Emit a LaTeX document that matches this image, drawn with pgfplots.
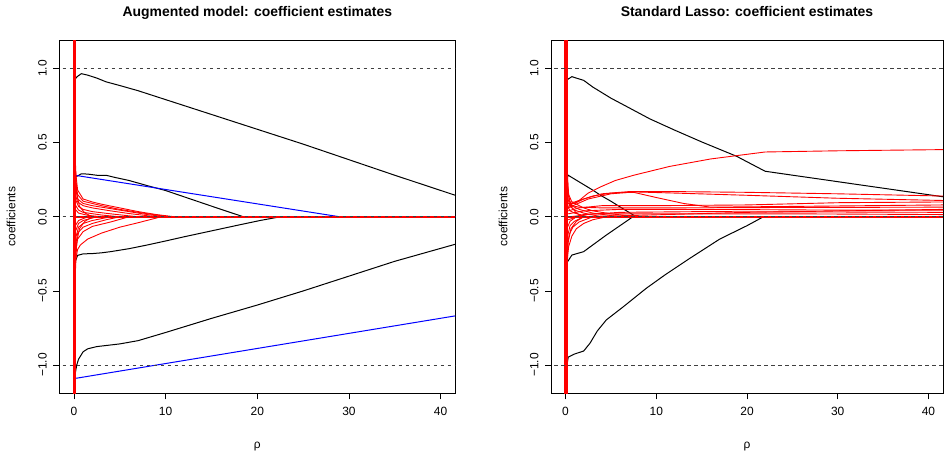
\documentclass[border=0pt]{standalone}
\usepackage{fontspec}
\setmainfont{Liberation Sans}
\usepackage{pgfplots}
\pgfplotsset{compat=1.18}

\pgfplotsset{
  coefax/.style={
    scale only axis, height=353bp, anchor=south west,
    xmin=-1.6, xmax=41.6, ymin=-1.19, ymax=1.19,
    axis line style={line width=0.8bp},
    tick align=outside, major tick length=6bp,
    tick style={black, line width=0.8bp},
    tick pos=left,
    xtick={0,10,20,30,40}, xticklabels={0,10,20,30,40},
    ytick={-1,-0.5,0,0.5,1}, yticklabels={−1.0,−0.5,0.0,0.5,1.0},
    ticklabel style={font=\fontsize{12}{14}\selectfont},
    yticklabel style={xshift=-3bp, rotate=90, anchor=south},
    xticklabel style={yshift=-4bp},
    xlabel={ρ}, ylabel={coefficients},
    label style={font=\fontsize{12}{14}\selectfont},
    xlabel style={at={(0.5,-0.157)}, anchor=base, inner sep=0pt},
    ylabel style={at={(-0.122,0.5)}, anchor=center},
    title style={at={(0.5,1.05)}, anchor=base, inner sep=0pt,
      font=\bfseries\fontsize{14}{16}\selectfont},
  },
  blk/.style={black, line width=1bp},
  bl/.style={blue, line width=1bp},
  rd/.style={red, line width=0.9bp},
  ref/.style={black!75, line width=0.8bp, dash pattern=on 3.5bp off 3.5bp},
}

\begin{document}
\begin{tikzpicture}
\path[use as bounding box] (0,0) rectangle (949bp,454bp);

% ---- left: augmented model
\begin{axis}[coefax, at={(59.3bp,60.7bp)}, width=396bp,
  title={Augmented model: coefficient estimates}]
  \addplot[blk] coordinates {(0.15,0.93) (0.35,0.945) (0.8,0.965) (1.5,0.955) (2.5,0.935) (3.5,0.91) (5,0.885) (7,0.85) (10,0.79) (15,0.69) (20,0.59) (25,0.49) (30,0.385) (35,0.28) (41.6,0.145)};
  \addplot[blk] coordinates {(0.15,0.27) (0.4,0.275) (0.8,0.29) (1.5,0.288) (2.5,0.28) (3.5,0.28) (4.5,0.265) (6,0.245) (8,0.21) (10,0.177) (12,0.135) (14,0.093) (16,0.051) (18.5,0) (41.6,0)};
  \addplot[blk] coordinates {(0.15,-0.3) (0.4,-0.26) (1,-0.25) (2,-0.248) (3,-0.243) (4,-0.235) (6,-0.215) (8,-0.19) (10,-0.163) (12,-0.135) (15,-0.095) (18,-0.055) (20.3,-0.025) (22.5,0) (41.6,0)};
  \addplot[blk] coordinates {(0.1,-1.07) (0.3,-1.0) (0.5,-0.96) (1,-0.91) (1.5,-0.89) (2.5,-0.875) (5,-0.857) (7,-0.835) (10,-0.78) (15,-0.685) (20,-0.595) (25,-0.5) (30,-0.4) (35,-0.3) (41.6,-0.185)};
  \addplot[bl] coordinates {(0.1,0.28) (29,0) (41.6,0)};
  \addplot[bl] coordinates {(0.1,-1.09) (41.6,-0.668)};
  % noise variables
  \addplot[rd] coordinates {(0.15,0.32) (0.4,0.18) (1,0.12) (2,0.1) (3,0.085) (5,0.06) (7,0.035) (9,0.015) (11,0)};
  \addplot[rd] coordinates {(0.15,0.25) (0.4,0.15) (1,0.105) (2,0.09) (3,0.075) (5,0.05) (7,0.03) (9,0.012) (10.5,0)};
  \addplot[rd] coordinates {(0.15,0.2) (0.4,0.12) (1,0.09) (2,0.075) (4,0.055) (6,0.035) (8,0.015) (10,0)};
  \addplot[rd] coordinates {(0.15,0.15) (0.4,0.1) (1,0.075) (2,0.06) (4,0.04) (6,0.022) (9,0)};
  \addplot[rd] coordinates {(0.15,0.12) (0.5,0.07) (1,0.05) (2,0.035) (4,0.02) (7,0)};
  \addplot[rd] coordinates {(0.15,0.08) (0.5,0.045) (1,0.03) (3,0.012) (5,0)};
  \addplot[rd] coordinates {(0.15,0.05) (0.5,0.025) (1.5,0.01) (3,0)};
  \addplot[rd] coordinates {(0.1,0.45) (0.3,0.16) (0.6,0.07) (1.2,0.025) (2,0)};
  \addplot[rd] coordinates {(0.15,-0.3) (0.4,-0.22) (0.7,-0.19) (1.5,-0.15) (3,-0.11) (5,-0.07) (7,-0.04) (9.5,0)};
  \addplot[rd] coordinates {(0.15,-0.25) (0.4,-0.15) (1,-0.1) (2,-0.065) (4,-0.035) (6,0)};
  \addplot[rd] coordinates {(0.15,-0.2) (0.4,-0.11) (1,-0.07) (2,-0.045) (3.5,-0.02) (5,0)};
  \addplot[rd] coordinates {(0.15,-0.15) (0.5,-0.07) (1,-0.045) (2,-0.025) (4,0)};
  \addplot[rd] coordinates {(0.15,-0.1) (0.5,-0.045) (1,-0.025) (2.5,0)};
  \addplot[rd] coordinates {(0.15,-0.06) (0.5,-0.025) (1.5,0)};
  \addplot[rd] coordinates {(0.1,-0.45) (0.3,-0.17) (0.6,-0.08) (1.2,-0.03) (2,0)};
  \addplot[red, line width=2bp] coordinates {(0,0) (41.6,0)};
  \addplot[red, line width=3.5bp] coordinates {(0.05,-1.5) (0.05,1.5)};
  % reference lines
  \addplot[ref] coordinates {(-2,1) (43,1)};
  \addplot[ref] coordinates {(-2,0) (43,0)};
  \addplot[ref] coordinates {(-2,-1) (43,-1)};
\end{axis}

% ---- right: standard lasso
\begin{axis}[coefax, at={(551bp,60.7bp)}, width=392bp,
  title={Standard Lasso: coefficient estimates}]
  \addplot[blk] coordinates {(0.2,0.925) (0.7,0.945) (1.2,0.935) (2,0.92) (3,0.875) (5,0.8) (7,0.735) (9.3,0.66) (12,0.585) (15,0.505) (18.85,0.408) (22,0.307) (41.6,0.135)};
  \addplot[blk] coordinates {(0.15,0.26) (0.3,0.28) (1,0.254) (2,0.217) (3,0.18) (4,0.14) (5,0.105) (6,0.067) (7.8,0) (41.6,0)};
  \addplot[blk] coordinates {(0.15,-0.31) (0.3,-0.296) (0.7,-0.258) (2,-0.235) (3,-0.19) (4.5,-0.123) (6.9,-0.022) (7.4,0) (41.6,0)};
  \addplot[blk] coordinates {(0.15,-1.0) (0.3,-0.946) (1,-0.925) (2,-0.905) (2.7,-0.852) (3.5,-0.77) (4.5,-0.695) (6.4,-0.605) (8.9,-0.482) (11,-0.39) (13.7,-0.28) (17,-0.15) (20,-0.06) (21.8,0) (41.6,0)};
  % noise variables, non-zero
  \addplot[rd] coordinates {(0.15,0.05) (0.5,0.08) (1.5,0.11) (2.5,0.16) (3.8,0.2) (5.5,0.245) (7.5,0.28) (11.5,0.34) (16,0.39) (22,0.437) (30,0.445) (41.6,0.453)};
  \addplot[rd] coordinates {(0.3,0.09) (1,0.09) (2,0.12) (4,0.155) (7,0.17) (12,0.17) (20,0.165) (30,0.155) (41.6,0.14)};
  \addplot[rd] coordinates {(0.3,0.06) (1,0.08) (2.5,0.12) (5,0.155) (7.5,0.168) (12,0.16) (20,0.145) (30,0.125) (41.6,0.11)};
  \addplot[rd] coordinates {(0.3,0.1) (1,0.1) (3,0.14) (5,0.16) (7.5,0.165) (10,0.13) (13,0.09) (16,0.065) (25,0.07) (41.6,0.08)};
  \addplot[rd] coordinates {(0.3,0.04) (1.5,0.06) (4,0.075) (10,0.075) (20,0.08) (30,0.095) (41.6,0.1)};
  \addplot[rd] coordinates {(0.3,0.08) (1.5,0.065) (4,0.06) (10,0.06) (20,0.062) (41.6,0.065)};
  \addplot[rd] coordinates {(0.3,0.02) (2,0.04) (6,0.05) (15,0.05) (30,0.045) (41.6,0.045)};
  \addplot[rd] coordinates {(0.3,-0.02) (2,0.015) (6,0.03) (15,0.035) (41.6,0.03)};
  \addplot[rd] coordinates {(0.5,0) (3,0.02) (10,0.02) (25,0.02) (41.6,0.015)};
  \addplot[rd] coordinates {(1,0) (8,0.01) (20,0.03) (41.6,0.05)};
  % noise variables, shrunk to zero
  \addplot[rd] coordinates {(0.15,0.3) (0.35,0.15) (0.7,0.1) (1.2,0.085) (2,0.06) (3,0.04) (5,0.02) (8,0)};
  \addplot[rd] coordinates {(0.15,0.22) (0.4,0.11) (0.8,0.07) (1.5,0.05) (3,0.025) (6,0)};
  \addplot[rd] coordinates {(0.15,0.15) (0.5,0.07) (1,0.045) (2,0.025) (4,0)};
  \addplot[rd] coordinates {(0.15,0.08) (0.5,0.04) (1,0.025) (2.5,0)};
  \addplot[rd] coordinates {(0.1,0.45) (0.3,0.16) (0.6,0.07) (1.2,0.025) (2,0)};
  \addplot[rd] coordinates {(0.15,-0.3) (0.35,-0.2) (0.7,-0.13) (1.2,-0.08) (2,-0.045) (3,-0.02) (4.5,0)};
  \addplot[rd] coordinates {(0.15,-0.22) (0.4,-0.12) (0.8,-0.07) (1.5,-0.035) (3,0)};
  \addplot[rd] coordinates {(0.15,-0.15) (0.5,-0.06) (1,-0.03) (2,0)};
  \addplot[rd] coordinates {(0.15,-0.08) (0.5,-0.03) (1.2,0)};
  \addplot[rd] coordinates {(0.1,-0.45) (0.3,-0.17) (0.6,-0.08) (1.2,-0.03) (2,0)};
  \addplot[red, line width=2bp] coordinates {(0,0) (41.6,0)};
  \addplot[red, line width=3.5bp] coordinates {(0.05,-1.5) (0.05,1.5)};
  % reference lines
  \addplot[ref] coordinates {(-2,1) (43,1)};
  \addplot[ref] coordinates {(-2,0) (43,0)};
  \addplot[ref] coordinates {(-2,-1) (43,-1)};
\end{axis}
\end{tikzpicture}
\end{document}
